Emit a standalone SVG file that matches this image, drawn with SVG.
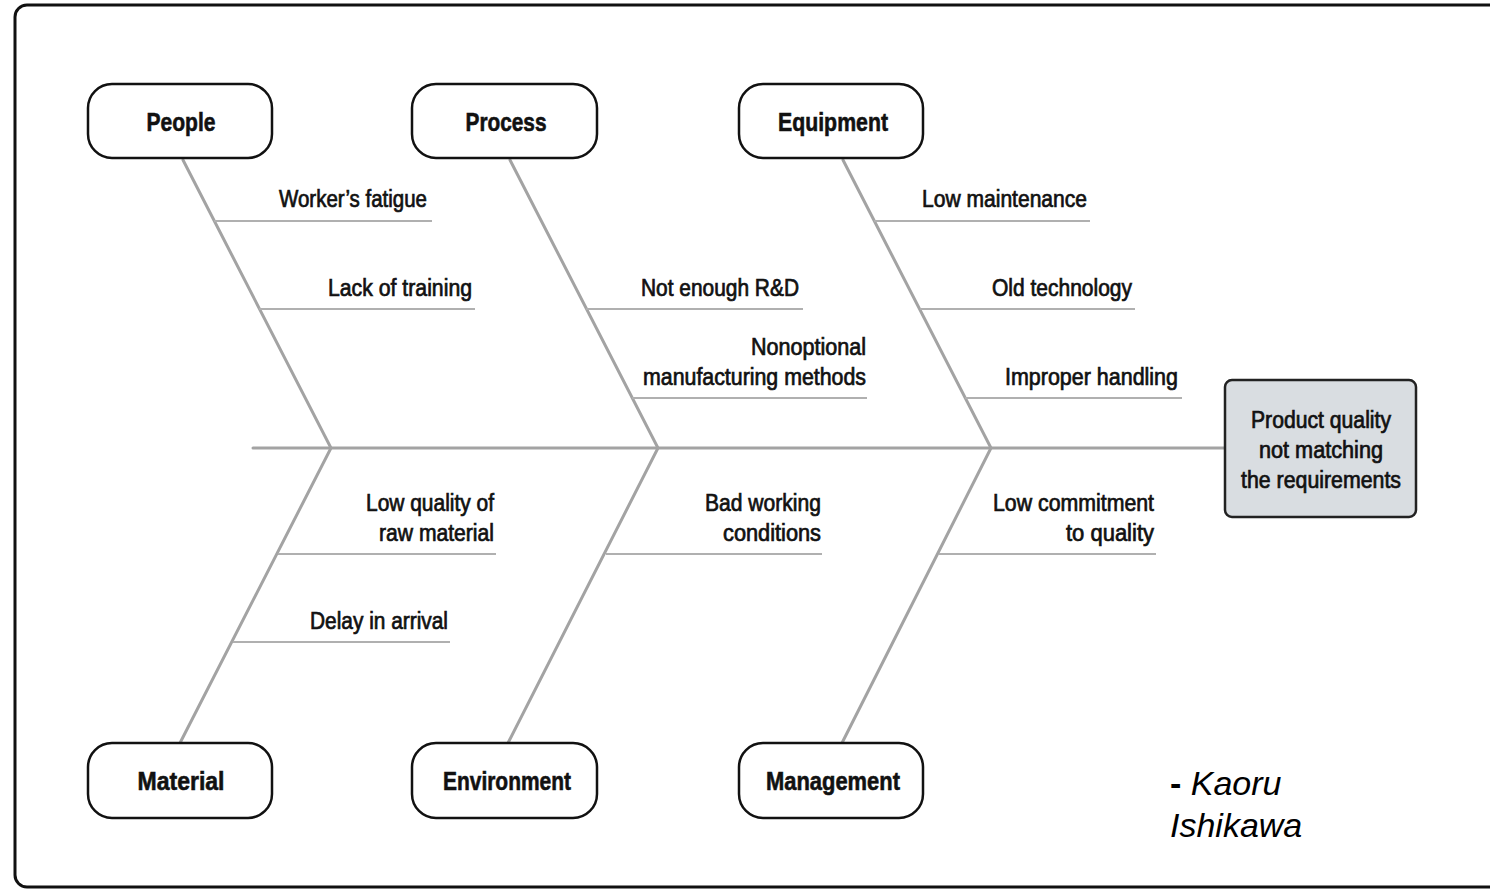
<svg xmlns="http://www.w3.org/2000/svg" width="1490" height="890" viewBox="0 0 1490 890">
<style>
.cat rect{fill:#fff;stroke:#111;stroke-width:2.5}
.cat text{font-family:"Liberation Sans",Arial,sans-serif;font-weight:bold;font-size:26px;fill:#111;stroke:#111;stroke-width:0.6;text-anchor:middle}
.lbl{font-family:"Liberation Sans",Arial,sans-serif;font-size:23px;fill:#111;stroke:#111;stroke-width:0.7;text-anchor:end}
.bone{stroke:#a3a3a3;stroke-width:3;fill:none;stroke-linecap:round}
.sub{stroke:#b0b0b0;stroke-width:2;fill:none}
.eff text{font-family:"Liberation Sans",Arial,sans-serif;font-size:23px;fill:#111;stroke:#111;stroke-width:0.7;text-anchor:middle}
</style>
<rect x="0" y="0" width="1490" height="890" fill="#fff"/>
<rect id="frame" x="15" y="5" width="1500" height="882" rx="12" fill="#fff" stroke="#111" stroke-width="3"/>
<g id="connectors">
<path class="bone" d="M253 448 H1225"/>
<path class="bone" d="M183 160 L331 448 L180 743"/>
<path class="bone" d="M510 160 L658 448 L508 743"/>
<path class="bone" d="M843 160 L991 448 L842 743"/>
<path class="sub" d="M214 221 H432"/>
<path class="sub" d="M259 309 H475"/>
<path class="sub" d="M586 309 H803"/>
<path class="sub" d="M632 398 H867"/>
<path class="sub" d="M874 221 H1090"/>
<path class="sub" d="M920 309 H1135"/>
<path class="sub" d="M965 398 H1182"/>
<path class="sub" d="M278 554 H496"/>
<path class="sub" d="M233 642 H450"/>
<path class="sub" d="M606 554 H822"/>
<path class="sub" d="M939 554 H1156"/>
</g>
<g id="labels">
<text class="lbl" x="427" y="207" textLength="148" lengthAdjust="spacingAndGlyphs">Worker’s fatigue</text>
<text class="lbl" x="472" y="296" textLength="144" lengthAdjust="spacingAndGlyphs">Lack of training</text>
<text class="lbl" x="799" y="296" textLength="158" lengthAdjust="spacingAndGlyphs">Not enough R&amp;D</text>
<text class="lbl" x="866" y="355" textLength="115" lengthAdjust="spacingAndGlyphs">Nonoptional</text>
<text class="lbl" x="866" y="385" textLength="223" lengthAdjust="spacingAndGlyphs">manufacturing methods</text>
<text class="lbl" x="1087" y="207" textLength="165" lengthAdjust="spacingAndGlyphs">Low maintenance</text>
<text class="lbl" x="1132" y="296" textLength="140" lengthAdjust="spacingAndGlyphs">Old technology</text>
<text class="lbl" x="1178" y="385" textLength="173" lengthAdjust="spacingAndGlyphs">Improper handling</text>
<text class="lbl" x="494" y="511" textLength="128" lengthAdjust="spacingAndGlyphs">Low quality of</text>
<text class="lbl" x="494" y="541" textLength="115" lengthAdjust="spacingAndGlyphs">raw material</text>
<text class="lbl" x="448" y="629" textLength="138" lengthAdjust="spacingAndGlyphs">Delay in arrival</text>
<text class="lbl" x="821" y="511" textLength="116" lengthAdjust="spacingAndGlyphs">Bad working</text>
<text class="lbl" x="821" y="541" textLength="98" lengthAdjust="spacingAndGlyphs">conditions</text>
<text class="lbl" x="1154" y="511" textLength="161" lengthAdjust="spacingAndGlyphs">Low commitment</text>
<text class="lbl" x="1154" y="541" textLength="88" lengthAdjust="spacingAndGlyphs">to quality</text>
</g>
<g id="people" class="cat"><rect x="88" y="84" width="184" height="74" rx="24"/><text x="181" y="131" textLength="69" lengthAdjust="spacingAndGlyphs">People</text></g>
<g id="process" class="cat"><rect x="412" y="84" width="185" height="74" rx="24"/><text x="506" y="131" textLength="81" lengthAdjust="spacingAndGlyphs">Process</text></g>
<g id="equipment" class="cat"><rect x="739" y="84" width="184" height="74" rx="24"/><text x="833" y="131" textLength="110" lengthAdjust="spacingAndGlyphs">Equipment</text></g>
<g id="material" class="cat"><rect x="88" y="743" width="184" height="75" rx="24"/><text x="181" y="790" textLength="87" lengthAdjust="spacingAndGlyphs">Material</text></g>
<g id="environment" class="cat"><rect x="412" y="743" width="185" height="75" rx="24"/><text x="507" y="790" textLength="128" lengthAdjust="spacingAndGlyphs">Environment</text></g>
<g id="management" class="cat"><rect x="739" y="743" width="184" height="75" rx="24"/><text x="833" y="790" textLength="134" lengthAdjust="spacingAndGlyphs">Management</text></g>
<g id="effect" class="eff">
<rect x="1225" y="380" width="191" height="137" rx="7" fill="#d9dde1" stroke="#222" stroke-width="2.5"/>
<text x="1321" y="428" textLength="140" lengthAdjust="spacingAndGlyphs">Product quality</text>
<text x="1321" y="458" textLength="124" lengthAdjust="spacingAndGlyphs">not matching</text>
<text x="1321" y="488" textLength="160" lengthAdjust="spacingAndGlyphs">the requirements</text>
</g>
<g id="attribution" font-family="Liberation Sans, Arial, sans-serif" font-size="34" fill="#000">
<text x="1170" y="795"><tspan font-weight="bold">-</tspan> <tspan font-style="italic">Kaoru</tspan></text>
<text x="1170" y="837" font-style="italic">Ishikawa</text>
</g>
</svg>
